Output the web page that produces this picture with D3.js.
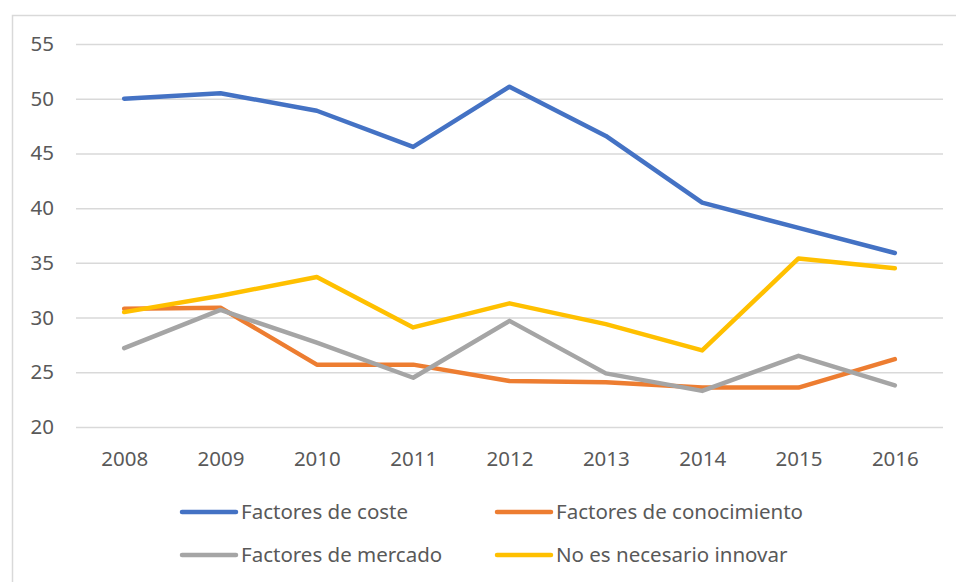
<!DOCTYPE html>
<html>
<head>
<meta charset="utf-8">
<script src="https://cdn.jsdelivr.net/npm/d3@7"></script>
<style>
  body { margin: 0; background: #fff; }
</style>
</head>
<body>
<div id="chart"></div>
<script>
// Years along the x axis
const years = ["2008", "2009", "2010", "2011", "2012", "2013", "2014", "2015", "2016"];

// Series values
const coste = [50.0, 50.5, 48.9, 45.6, 51.1, 46.6, 40.5, 38.2, 35.9];
const conocimiento = [30.8, 30.9, 25.7, 25.7, 24.2, 24.1, 23.6, 23.6, 26.2];
const mercado = [27.2, 30.7, 27.7, 24.5, 29.7, 24.9, 23.3, 26.5, 23.8];
const noInnovar = [30.5, 32.0, 33.7, 29.1, 31.3, 29.4, 27.0, 35.4, 34.5];

const seriesNames = ["Factores de coste", "Factores de conocimiento", "Factores de mercado", "No es necesario innovar"];
const yTicks = [20, 25, 30, 35, 40, 45, 50, 55];

const series = [
  { name: seriesNames[0], values: coste, color: "#4472C4" },
  { name: seriesNames[1], values: conocimiento, color: "#ED7D31" },
  { name: seriesNames[2], values: mercado, color: "#A5A5A5" },
  { name: seriesNames[3], values: noInnovar, color: "#FFC000" }
];

const width = 956;
const height = 582;
const margin = { top: 44, right: 13, bottom: 155, left: 76 };
const fontSize = "20.5px";

const svg = d3.select("#chart").append("svg")
  .attr("width", width)
  .attr("height", height)
  .style("font-family", "'Noto Sans', sans-serif");

// chart area border (right/bottom edges fall outside the picture)
svg.append("rect")
  .attr("x", 12.5)
  .attr("y", 15.5)
  .attr("width", 1000)
  .attr("height", 1000)
  .attr("fill", "none")
  .attr("stroke", "#d9d9d9")
  .attr("stroke-width", 1.5);

const x = d3.scalePoint()
  .domain(years)
  .range([margin.left, width - margin.right])
  .padding(0.5);

const y = d3.scaleLinear()
  .domain([20, 55])
  .range([height - margin.bottom, margin.top]);

// Gridlines + y labels
const yAxis = svg.append("g")
  .attr("transform", `translate(${margin.left},0)`)
  .call(d3.axisLeft(y).tickValues(yTicks).tickSize(-(width - margin.right - margin.left)).tickPadding(22));
yAxis.select(".domain").remove();
yAxis.selectAll("line").attr("stroke", "#d9d9d9").attr("stroke-width", 1.5);
yAxis.selectAll("text")
  .attr("fill", "#595959")
  .style("font-size", fontSize)
  .style("font-family", "'Noto Sans', sans-serif");

// x labels
const xAxis = svg.append("g")
  .attr("transform", `translate(0,${height - margin.bottom})`)
  .call(d3.axisBottom(x).tickSize(0).tickPadding(24));
xAxis.select(".domain").remove();
xAxis.selectAll("text")
  .attr("fill", "#595959")
  .style("font-size", fontSize)
  .style("font-family", "'Noto Sans', sans-serif");

// Lines
const line = d3.line()
  .x((d, i) => x(years[i]))
  .y(d => y(d));

series.forEach(s => {
  svg.append("path")
    .datum(s.values)
    .attr("d", line)
    .attr("fill", "none")
    .attr("stroke", s.color)
    .attr("stroke-width", 4.5)
    .attr("stroke-linejoin", "round")
    .attr("stroke-linecap", "round");
});

// Legend, two columns
const legendPos = [
  { x: 182, y: 512 },
  { x: 497, y: 512 },
  { x: 182, y: 555 },
  { x: 497, y: 555 }
];

series.forEach((s, i) => {
  const p = legendPos[i];
  const g = svg.append("g").attr("transform", `translate(${p.x},${p.y})`);
  g.append("line")
    .attr("x1", 0).attr("x2", 54)
    .attr("y1", 0).attr("y2", 0)
    .attr("stroke", s.color)
    .attr("stroke-width", 4.5)
    .attr("stroke-linecap", "round");
  g.append("text")
    .attr("x", 59)
    .attr("y", 0)
    .attr("dy", "0.35em")
    .attr("fill", "#595959")
    .style("font-size", fontSize)
    .text(s.name);
});
</script>
</body>
</html>
